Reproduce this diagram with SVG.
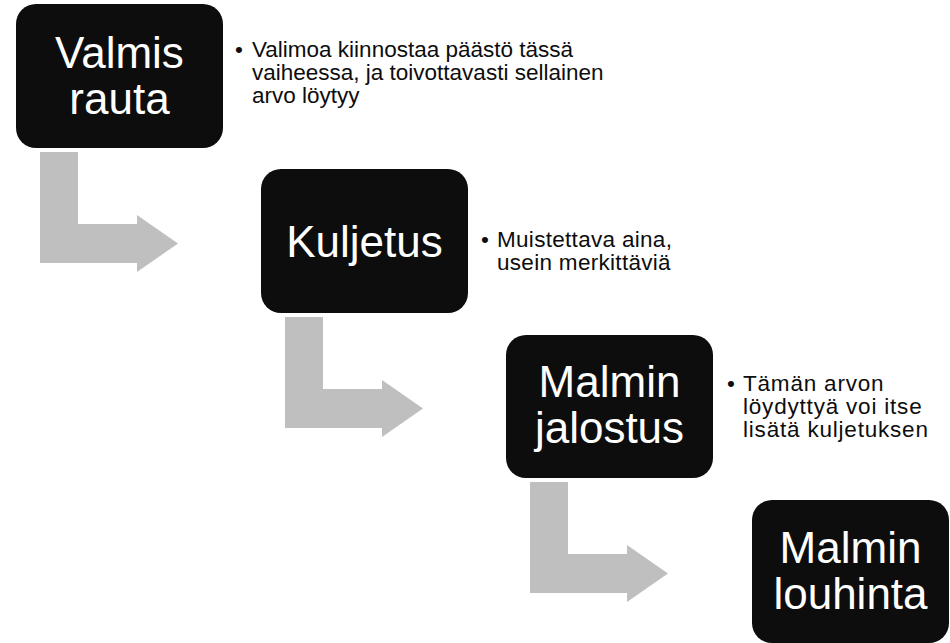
<svg xmlns="http://www.w3.org/2000/svg" width="950" height="643" viewBox="0 0 950 643">
  <style>
    .box { fill: #0d0d0d; }
    .title { fill: #ffffff; font-family: "Liberation Sans", Arial, sans-serif; font-size: 44px; text-anchor: middle; }
    .note { fill: #0d0d0d; font-family: "Liberation Sans", Arial, sans-serif; font-size: 22.5px; }
    .bend { fill: #bfbfbf; }
  </style>
  <defs>
    <!-- bent arrow: down, then right -->
    <path id="bentArrow" d="M0 0 H38 V72 H97 V63 L138 91.5 L97 120 V111 H0 Z"/>
  </defs>

  <g id="connectors">
    <use href="#bentArrow" class="bend" x="40" y="152"/>
    <use href="#bentArrow" class="bend" x="285" y="317"/>
    <use href="#bentArrow" class="bend" x="530" y="482"/>
  </g>

  <g id="node-valmis-rauta">
    <rect class="box" x="16" y="4" width="207" height="144" rx="20"/>
    <text class="title" x="119.5" y="68">Valmis</text>
    <text class="title" x="119.5" y="114">rauta</text>
  </g>
  <g id="note-valmis-rauta" class="note">
    <text x="235" y="57">•</text>
    <text x="252" y="57">Valimoa kiinnostaa päästö tässä</text>
    <text x="252" y="80">vaiheessa, ja toivottavasti sellainen</text>
    <text x="252" y="103">arvo löytyy</text>
  </g>

  <g id="node-kuljetus">
    <rect class="box" x="261" y="169" width="207" height="144" rx="20"/>
    <text class="title" x="364.5" y="257">Kuljetus</text>
  </g>
  <g id="note-kuljetus" class="note" letter-spacing="0.3">
    <text x="481" y="247">•</text>
    <text x="497" y="247">Muistettava aina,</text>
    <text x="497" y="270">usein merkittäviä</text>
  </g>

  <g id="node-malmin-jalostus">
    <rect class="box" x="506" y="335" width="207" height="143" rx="20"/>
    <text class="title" x="609.5" y="397">Malmin</text>
    <text class="title" x="609.5" y="443">jalostus</text>
  </g>
  <g id="note-malmin-jalostus" class="note" letter-spacing="0.8">
    <text x="727" y="391">•</text>
    <text x="743" y="391">Tämän arvon</text>
    <text x="743" y="414">löydyttyä voi itse</text>
    <text x="743" y="437">lisätä kuljetuksen</text>
  </g>

  <g id="node-malmin-louhinta">
    <rect class="box" x="752" y="500" width="197" height="143" rx="20"/>
    <text class="title" x="850.5" y="563">Malmin</text>
    <text class="title" x="850.5" y="609">louhinta</text>
  </g>
</svg>
